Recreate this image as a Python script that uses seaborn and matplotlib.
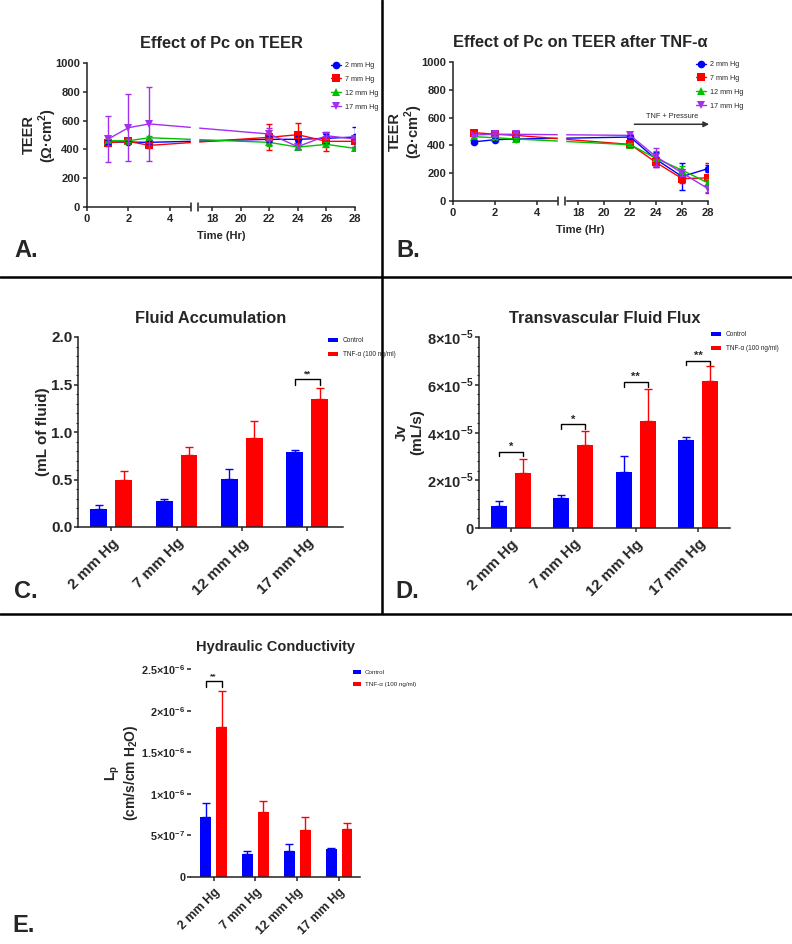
import numpy as np
import pandas as pd
import matplotlib
matplotlib.use("Agg")
import matplotlib.pyplot as plt
import seaborn as sns
from matplotlib.lines import Line2D
from matplotlib.ticker import AutoMinorLocator, FuncFormatter

# TEER time course (panels A and B), mean and error per pressure group
hours = [1, 2, 3, 22, 24, 26, 28]
groups = ["2 mm Hg", "7 mm Hg", "12 mm Hg", "17 mm Hg"]

teer_a_2 = [451, 451, 449, 470, 470, 477, 486]
teer_a_7 = [447, 456, 428, 484, 502, 456, 456]
teer_a_12 = [460, 460, 481, 449, 416, 435, 407]
teer_a_17 = [470, 551, 577, 507, 419, 495, 472]
err_a_2 = [15, 10, 10, 20, 20, 30, 70]
err_a_7 = [25, 15, 15, 90, 80, 65, 15]
err_a_12 = [10, 10, 10, 25, 10, 15, 10]
err_a_17 = [160, 235, 255, 40, 15, 25, 15]

teer_b_2 = [426, 441, 446, 460, 299, 176, 233]
teer_b_7 = [492, 480, 472, 407, 277, 161, 166]
teer_b_12 = [463, 455, 446, 405, 306, 222, 130]
teer_b_17 = [475, 480, 480, 472, 318, 202, 89]
err_b_2 = [10, 10, 10, 15, 55, 98, 25]
err_b_7 = [10, 10, 10, 15, 35, 30, 105]
err_b_12 = [10, 10, 10, 10, 55, 30, 30]
err_b_17 = [10, 10, 10, 10, 65, 25, 25]

# bar panels (C, D, E)
pressures = ["2 mm Hg", "7 mm Hg", "12 mm Hg", "17 mm Hg"]
treatments = ["Control", "TNF-α (100 ng/ml)"]

fluid_ctrl = [0.193, 0.274, 0.509, 0.786]
fluid_ctrl_err = [0.035, 0.021, 0.105, 0.028]
fluid_tnf = [0.498, 0.754, 0.937, 1.35]
fluid_tnf_err = [0.092, 0.092, 0.179, 0.117]
fluid_sig = [(3, 1.56, "**")]

jv_ctrl = [0.92e-5, 1.27e-5, 2.36e-5, 3.67e-5]
jv_ctrl_err = [0.21e-5, 0.10e-5, 0.67e-5, 0.13e-5]
jv_tnf = [2.32e-5, 3.48e-5, 4.47e-5, 6.15e-5]
jv_tnf_err = [0.58e-5, 0.60e-5, 1.35e-5, 0.62e-5]
jv_sig = [(0, 3.2e-5, "*"), (1, 4.34e-5, "*"), (2, 6.12e-5, "**"), (3, 7.01e-5, "**")]

lp_ctrl = [0.726e-6, 0.281e-6, 0.309e-6, 0.333e-6]
lp_ctrl_err = [0.161e-6, 0.028e-6, 0.088e-6, 0.020e-6]
lp_tnf = [1.80e-6, 0.778e-6, 0.566e-6, 0.574e-6]
lp_tnf_err = [0.44e-6, 0.137e-6, 0.156e-6, 0.076e-6]
lp_sig = [(0, 2.36e-6, "**")]

line_palette = {"2 mm Hg": "#0000ff", "7 mm Hg": "#ff0000",
                "12 mm Hg": "#00c000", "17 mm Hg": "#a330f0"}
line_markers = {"2 mm Hg": "o", "7 mm Hg": "s", "12 mm Hg": "^", "17 mm Hg": "v"}
bar_palette = {"Control": "#0000ff", "TNF-α (100 ng/ml)": "#ff0000"}

sns.set_style("ticks")
plt.rcParams["font.family"] = ["Liberation Sans", "DejaVu Sans"]
plt.rcParams["font.weight"] = "bold"
plt.rcParams["axes.labelweight"] = "bold"
plt.rcParams["axes.titleweight"] = "bold"
plt.rcParams["mathtext.fontset"] = "custom"
plt.rcParams["mathtext.bf"] = "Liberation Sans:bold"
plt.rcParams["mathtext.rm"] = "Liberation Sans:bold"
plt.rcParams["axes.linewidth"] = 1.1
plt.rcParams["xtick.major.width"] = 1.1
plt.rcParams["ytick.major.width"] = 1.1
plt.rcParams["xtick.major.size"] = 3
plt.rcParams["ytick.major.size"] = 3
plt.rcParams["ytick.minor.size"] = 1.5
plt.rcParams["ytick.minor.width"] = 0.8
plt.rcParams["axes.edgecolor"] = "#222222"

W, H = 792, 944
fig = plt.figure(figsize=(W / 100, H / 100), dpi=100)


def px_axes(left, top, right, bottom):
    return fig.add_axes([left / W, 1 - bottom / H, (right - left) / W, (bottom - top) / H])


def broken_scale(a, b, gap=7.0, lo=5.0, hi=17.0):
    def fwd(x):
        x = np.asarray(x, dtype=float)
        return np.where(x <= lo, x * a,
                        np.where(x < hi, lo * a + (x - lo) * gap / (hi - lo),
                                 lo * a + gap + (x - hi) * b))

    def inv(y):
        y = np.asarray(y, dtype=float)
        y1, y2 = lo * a, lo * a + gap
        return np.where(y <= y1, y / a,
                        np.where(y < y2, lo + (y - y1) * (hi - lo) / gap,
                                 hi + (y - y2) / b))
    return fwd, inv


def sci_fmt(v, pos):
    if v == 0:
        return "0"
    exp = int(np.floor(np.log10(abs(v)) + 1e-9))
    mant = v / 10 ** exp
    return f"{mant:g}×10$^{{\\mathbf{{{exp}}}}}$"


def teer_panel(ax, values, errs, a, b, title, leg_xy):
    df = pd.DataFrame({
        "hour": hours * 4,
        "teer": sum(values, []),
        "group": [g for g in groups for _ in hours],
    })
    sns.lineplot(data=df, x="hour", y="teer", hue="group", style="group",
                 palette=line_palette, markers=line_markers, dashes=False,
                 markersize=5.5, markeredgewidth=0, linewidth=1.0,
                 errorbar=None, ax=ax)
    for g, v, e in zip(groups, values, errs):
        ax.errorbar(hours, v, yerr=e, fmt="none", ecolor=line_palette[g],
                    elinewidth=1.0, capsize=2.5, capthick=1.0)
    ax.set_xscale("function", functions=broken_scale(a, b))
    ax.set_xlim(0, 28)
    ax.set_ylim(0, 1000)
    ax.set_xticks([0, 2, 4, 18, 20, 22, 24, 26, 28])
    ax.set_yticks(range(0, 1001, 200))
    ax.tick_params(labelsize=8, pad=2)
    sns.despine(ax=ax)
    ax.axvspan(5, 17, ymin=-0.04, ymax=1.0, color="white", zorder=5, clip_on=False)
    for xb in (5, 17):
        ax.plot([xb, xb], [-0.03, 0.03], transform=ax.get_xaxis_transform(),
                color="#222222", lw=1.1, clip_on=False, zorder=6)
    ax.set_xlabel("Time (Hr)", fontsize=8, labelpad=5)
    ax.set_ylabel("TEER\n(Ω·cm$^\\mathbf{2}$)", fontsize=10.5, linespacing=1.1, labelpad=-3)
    ax.set_title(title, fontsize=11.8, pad=11)
    h, l = ax.get_legend_handles_labels()
    ax.legend(h, l, loc="upper left", bbox_to_anchor=(leg_xy[0] / W, 1 - leg_xy[1] / H),
              bbox_transform=fig.transFigure, frameon=False,
              prop={"size": 5.2, "weight": "normal"}, handlelength=1.4,
              handletextpad=0.6, labelspacing=0.95, borderpad=0, borderaxespad=0)


def bar_panel(ax, ctrl, ctrl_err, tnf, tnf_err, sig, sig_drop, sig_size):
    df = pd.DataFrame({
        "pressure": pressures * 2,
        "treatment": [t for t in treatments for _ in pressures],
        "value": ctrl + tnf,
    })
    sns.barplot(data=df, x="pressure", y="value", hue="treatment", palette=bar_palette,
                width=0.76, gap=0.32, errorbar=None, saturation=1, linewidth=0, ax=ax)
    centers = []
    for cont, errs, t in zip(ax.containers, [ctrl_err, tnf_err], treatments):
        xs = [p.get_x() + p.get_width() / 2 for p in cont]
        ys = [p.get_height() for p in cont]
        centers.append(xs)
        ax.errorbar(xs, ys, yerr=[np.zeros(len(errs)), errs], fmt="none",
                    ecolor=bar_palette[t], elinewidth=1.0, capsize=3.2, capthick=1.0, zorder=1)
    for i, y, txt in sig:
        x1, x2 = centers[0][i], centers[1][i]
        ax.plot([x1, x1, x2, x2], [y - sig_drop, y, y, y - sig_drop], color="black", lw=1.0)
        ax.text((x1 + x2) / 2, y, txt, ha="center", va="bottom", fontsize=sig_size)
    ax.set_xlabel("")
    sns.despine(ax=ax)
    return ax


def bar_legend(ax, xy, size=4.7, hlen=1.6):
    h, l = ax.get_legend_handles_labels()
    ax.legend(h, l, loc="upper left", bbox_to_anchor=(xy[0] / W, 1 - xy[1] / H),
              bbox_transform=fig.transFigure, frameon=False,
              prop={"size": size, "weight": "normal"},
              handlelength=hlen, handleheight=0.6, handletextpad=0.7,
              labelspacing=1.1, borderpad=0, borderaxespad=0)


# Panel A
axA = px_axes(87, 63, 355, 207)
teer_panel(axA, [teer_a_2, teer_a_7, teer_a_12, teer_a_17],
           [err_a_2, err_a_7, err_a_12, err_a_17], 20.75, 14.3,
           "Effect of Pc on TEER", (331, 62))

# Panel B
axB = px_axes(453, 62, 708, 201)
teer_panel(axB, [teer_b_2, teer_b_7, teer_b_12, teer_b_17],
           [err_b_2, err_b_7, err_b_12, err_b_17], 21.0, 12.9,
           "Effect of Pc on TEER after TNF-α", (696, 61))
axB.annotate("", xy=(28.3, 552), xytext=(22.1, 552), annotation_clip=False,
             arrowprops=dict(arrowstyle="-|>", color="#333333", lw=1.1, mutation_scale=8))
axB.text(25.2, 585, "TNF + Pressure", ha="center", va="bottom", fontsize=5.3, fontweight="normal")

# Panel C
axC = px_axes(78, 337, 343, 527)
bar_panel(axC, fluid_ctrl, fluid_ctrl_err, fluid_tnf, fluid_tnf_err, fluid_sig, 0.06, 6.5)
axC.set_xlim(-0.51, 3.55)
axC.set_ylim(0, 2.0)
axC.set_yticks([0, 0.5, 1.0, 1.5, 2.0])
axC.yaxis.set_major_formatter(FuncFormatter(lambda v, p: f"{v:.1f}"))
axC.yaxis.set_minor_locator(AutoMinorLocator(5))
axC.tick_params(axis="y", labelsize=11, pad=1)
axC.set_xticks(range(4))
axC.set_xticklabels(pressures, rotation=45, ha="right", rotation_mode="anchor", fontsize=11)
axC.set_ylabel("(mL of fluid)", fontsize=11, labelpad=1)
axC.set_title("Fluid Accumulation", fontsize=11.8, pad=10)
bar_legend(axC, (328, 337))

# Panel D
axD = px_axes(479, 337, 730, 528)
bar_panel(axD, jv_ctrl, jv_ctrl_err, jv_tnf, jv_tnf_err, jv_sig, 0.2e-5, 8)
axD.set_xlim(-0.51, 3.51)
axD.set_ylim(0, 8e-5)
axD.set_yticks([0, 2e-5, 4e-5, 6e-5, 8e-5])
axD.yaxis.set_major_formatter(FuncFormatter(sci_fmt))
axD.yaxis.set_minor_locator(AutoMinorLocator(5))
axD.tick_params(axis="y", labelsize=10.5, pad=1)
axD.set_xticks(range(4))
axD.set_xticklabels(pressures, rotation=45, ha="right", rotation_mode="anchor", fontsize=11)
axD.set_ylabel("Jv\n(mL/s)", fontsize=11, linespacing=1.1, labelpad=2)
axD.set_title("Transvascular Fluid Flux", fontsize=11.8, pad=10)
bar_legend(axD, (711, 331))

# Panel E
axE = px_axes(191, 669, 360, 877)
bar_panel(axE, lp_ctrl, lp_ctrl_err, lp_tnf, lp_tnf_err, lp_sig, 0.08e-6, 6)
axE.set_xlim(-0.54, 3.5)
axE.set_ylim(0, 2.5e-6)
axE.set_yticks([0, 0.5e-6, 1e-6, 1.5e-6, 2e-6, 2.5e-6])
axE.yaxis.set_major_formatter(FuncFormatter(sci_fmt))
axE.spines["left"].set_visible(False)
axE.tick_params(axis="y", labelsize=7.8, pad=1)
axE.set_xticks(range(4))
axE.set_xticklabels(pressures, rotation=45, ha="right", rotation_mode="anchor", fontsize=9)
axE.set_ylabel("L$_\\mathbf{p}$\n(cm/s/cm H$_\\mathbf{2}$O)", fontsize=10,
               linespacing=1.0, labelpad=1)
axE.set_title("Hydraulic Conductivity", fontsize=10.5, pad=13)
bar_legend(axE, (353, 670), size=4.5, hlen=1.2)

# panel letters
for txt, x, y in [("A.", 14, 257), ("B.", 396, 257), ("C.", 14, 598),
                  ("D.", 395, 598), ("E.", 12, 932)]:
    fig.text(x / W, 1 - y / H, txt, fontsize=17, fontweight="bold", va="baseline")

# divider lines
fig.add_artist(Line2D([382 / W, 382 / W], [1, 1 - 613 / H], color="black", lw=1.8))
fig.add_artist(Line2D([0, 1], [1 - 277 / H, 1 - 277 / H], color="black", lw=1.8))
fig.add_artist(Line2D([0, 1], [1 - 614 / H, 1 - 614 / H], color="black", lw=1.8))

fig.savefig("out.png", dpi=100)
